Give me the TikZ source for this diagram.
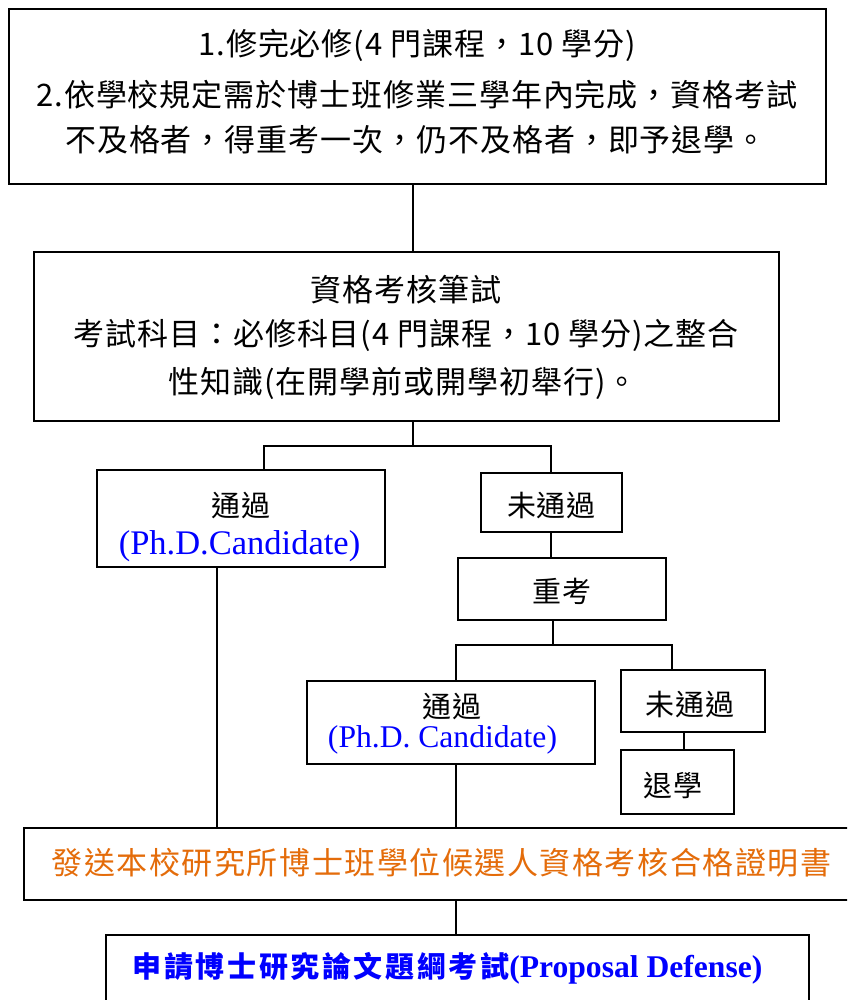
\documentclass[tikz,border=0pt]{standalone}
\usepackage{fontspec}
\setmainfont{Liberation Serif}
\newfontfamily\cjk[LetterSpace=3]{Noto Sans CJK TC}
\newfontfamily\cjkwide[LetterSpace=5]{Noto Sans CJK TC}
\newfontfamily\cjkbold[LetterSpace=9]{Noto Sans CJK TC}
\newfontfamily\tnr{Liberation Serif}
\definecolor{orng}{HTML}{E46C0A}
\definecolor{pblue}{HTML}{0000FF}
\begin{document}
\begin{tikzpicture}[x=1pt,y=-1pt,
  box/.style={draw, line width=1.6pt, rectangle, inner sep=0pt},
  conn/.style={line width=1.6pt},
  bigtxt/.style={font=\cjk\fontsize{31pt}{34pt}\selectfont, inner sep=0pt},
  smalltxt/.style={font=\cjk\fontsize{29pt}{32pt}\selectfont, inner sep=0pt},
  entxt/.style={font=\tnr\fontsize{31.6pt}{36pt}\selectfont, text=pblue, inner sep=0pt}]
\useasboundingbox (0,0) rectangle (847,1000);
\clip (0,0) rectangle (847,1000);
\fill[white] (0,0) rectangle (847,1000);

% boxes
\node[box, minimum width=817pt, minimum height=175pt] (box1) at (417.5,96.5) {};
\node[box, minimum width=745pt, minimum height=169pt] (box2) at (406.5,336.5) {};
\node[box, minimum width=288pt, minimum height=97pt] (pass1) at (241,518.5) {};
\node[box, minimum width=141pt, minimum height=59pt] (fail1) at (551.5,502.5) {};
\node[box, minimum width=208pt, minimum height=62pt] (retake) at (562,589) {};
\node[box, minimum width=288pt, minimum height=83pt] (pass2) at (451,722.5) {};
\node[box, minimum width=144pt, minimum height=62pt] (fail2) at (693,701) {};
\node[box, minimum width=113pt, minimum height=64pt] (quit) at (677.5,782) {};
\node[box, minimum width=856pt, minimum height=72pt] (cert) at (452,864) {};
\node[box, minimum width=703pt, minimum height=66pt] (final) at (457.5,968) {};

% texts
\node[bigtxt] (t1a) at (417,45) {1.修完必修(4 門課程，10 學分)};
\node[bigtxt] (t1b) at (417,95) {2.依學校規定需於博士班修業三學年內完成，資格考試};
\node[bigtxt] (t1c) at (416,140) {不及格者，得重考一次，仍不及格者，即予退學。};
\node[bigtxt] (t2a) at (406,290) {資格考核筆試};
\node[bigtxt] (t2b) at (406,335) {考試科目：必修科目(4 門課程，10 學分)之整合};
\node[bigtxt] (t2c) at (403,383) {性知識(在開學前或開學初舉行)。};
\node[smalltxt] (p1a) at (241,506) {通過};
\node[entxt, font=\tnr\fontsize{34.5pt}{38pt}\selectfont] (p1b) at (239.5,546) {(Ph.D.Candidate)};
\node[smalltxt] (f1t) at (551.5,506) {未通過};
\node[smalltxt] (rt) at (562,591) {重考};
\node[smalltxt] (p2a) at (452,707) {通過};
\node[entxt] (p2b) at (442.5,740) {(Ph.D. Candidate)};
\node[smalltxt] (f2t) at (690,705) {未通過};
\node[smalltxt] (qt) at (673,786) {退學};
\node[inner sep=0pt, text=orng, font=\cjkwide\fontsize{31pt}{34pt}\selectfont] (ct) at (441.5,863) {發送本校研究所博士班學位候選人資格考核合格證明書};
\node[inner sep=0pt, text=pblue] (ft) at (447.5,968)
  {\cjkbold\bfseries\fontsize{29pt}{34pt}\selectfont 申請博士研究論文題綱考試\tnr\bfseries\fontsize{31.6pt}{36pt}\selectfont(Proposal Defense)};

% junction coordinates
\coordinate (j1) at (413,446);
\coordinate (j1l) at (264,446);
\coordinate (j1r) at (551,446);
\coordinate (j2) at (553,645);
\coordinate (j2l) at (456,645);
\coordinate (j2r) at (672,645);
\coordinate (c1) at (217,0);
\coordinate (c2) at (456,0);
\coordinate (c3) at (684,0);

% connectors
\draw[conn] (box1.south -| j1) -- (box2.north -| j1);
\draw[conn] (box2.south -| j1) -- (j1);
\draw[conn] (pass1.north -| j1l) -- (j1l) -- (j1r) -- (fail1.north -| j1r);
\draw[conn] (fail1.south -| j1r) -- (retake.north -| j1r);
\draw[conn] (retake.south -| j2) -- (j2);
\draw[conn] (pass2.north -| j2l) -- (j2l) -- (j2r) -- (fail2.north -| j2r);
\draw[conn] (fail2.south -| c3) -- (quit.north -| c3);
\draw[conn] (pass1.south -| c1) -- (cert.north -| c1);
\draw[conn] (pass2.south -| c2) -- (cert.north -| c2);
\draw[conn] (cert.south -| c2) -- (final.north -| c2);
\end{tikzpicture}
\end{document}
